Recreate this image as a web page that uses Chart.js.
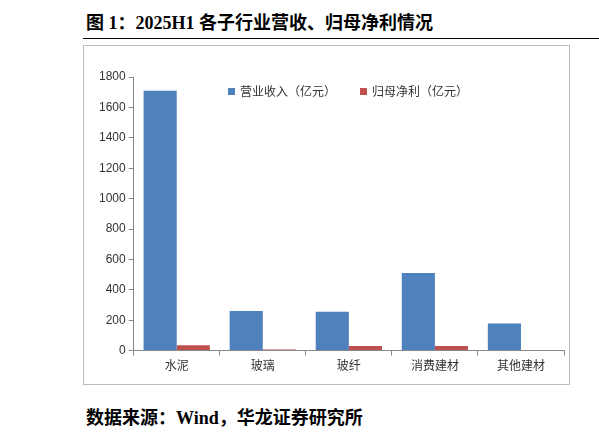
<!DOCTYPE html>
<html><head><meta charset="utf-8">
<script src="https://cdn.jsdelivr.net/npm/chart.js@4"></script>
<style>
body{margin:0;background:#fff;width:599px;height:441px;position:relative;overflow:hidden;font-family:"Noto Sans CJK SC",serif}
#title{position:absolute;left:86px;top:8px;font:bold 18px "Liberation Serif","Noto Sans CJK SC";color:#000}
#rule{position:absolute;left:83px;top:38px;width:516px;border-top:1px solid #000}
#box{position:absolute;left:83px;top:45px;width:487px;height:340px;border:1px solid #bbb;box-sizing:border-box}
#legend{position:absolute;left:228px;top:82px;font:12px "Noto Sans CJK SC";color:#333}
#legend span{display:inline-block;width:7px;height:7px;margin-right:5px;vertical-align:1px}
#foot{position:absolute;left:86px;top:403px;font:bold 18px "Liberation Serif","Noto Sans CJK SC";color:#000}
</style></head><body>
<div id="title">图 1：2025H1 各子行业营收、归母净利情况</div>
<div id="rule"></div>
<div id="box"><canvas id="chart"></canvas></div>
<div id="legend"></div>
<div id="foot">数据来源：Wind，华龙证券研究所</div>
<script>
'use strict';
const categories = ['水泥', '玻璃', '玻纤', '消费建材', '其他建材'];
const seriesNames = ['营业收入（亿元）', '归母净利（亿元）'];
const revenue = [1710, 260, 255, 510, 178];
const netProfit = [35, 8, 30, 30, 2];
const colors = ['#4F81BD', '#C0504D'];

document.getElementById('legend').innerHTML = seriesNames.map((n, i) =>
  '<span style="background:' + colors[i] + '"></span>' + n).join('&emsp;&emsp;');

let canvasElem = document.getElementById('chart');
canvasElem.width = 485; canvasElem.height = 338;

new Chart(canvasElem, {
  type: 'bar',
  data: {
    labels: categories,
    datasets: [
      {label: seriesNames[0], data: revenue, backgroundColor: colors[0]},
      {label: seriesNames[1], data: netProfit, backgroundColor: colors[1]}
    ]
  },
  options: {
    responsive: false,
    animation: false,
    categoryPercentage: 0.77,
    barPercentage: 1,
    layout: {padding: {left: 12, right: 5, top: 31, bottom: 8}},
    plugins: {legend: {display: false}, tooltip: {enabled: false}},
    scales: {
      x: {
        grid: {display: true, drawOnChartArea: false, offset: true, tickLength: 5, color: '#888'},
        border: {color: '#888'},
        ticks: {color: '#333', font: {size: 12, family: 'Noto Sans CJK SC'}}
      },
      y: {
        min: 0, max: 1800,
        grid: {display: true, drawOnChartArea: false, tickLength: 5, color: '#888'},
        border: {color: '#888'},
        ticks: {stepSize: 200, color: '#333', font: {size: 12, family: 'Liberation Sans'},
          callback: v => String(v)}
      }
    }
  }
});
</script>
</body></html>
